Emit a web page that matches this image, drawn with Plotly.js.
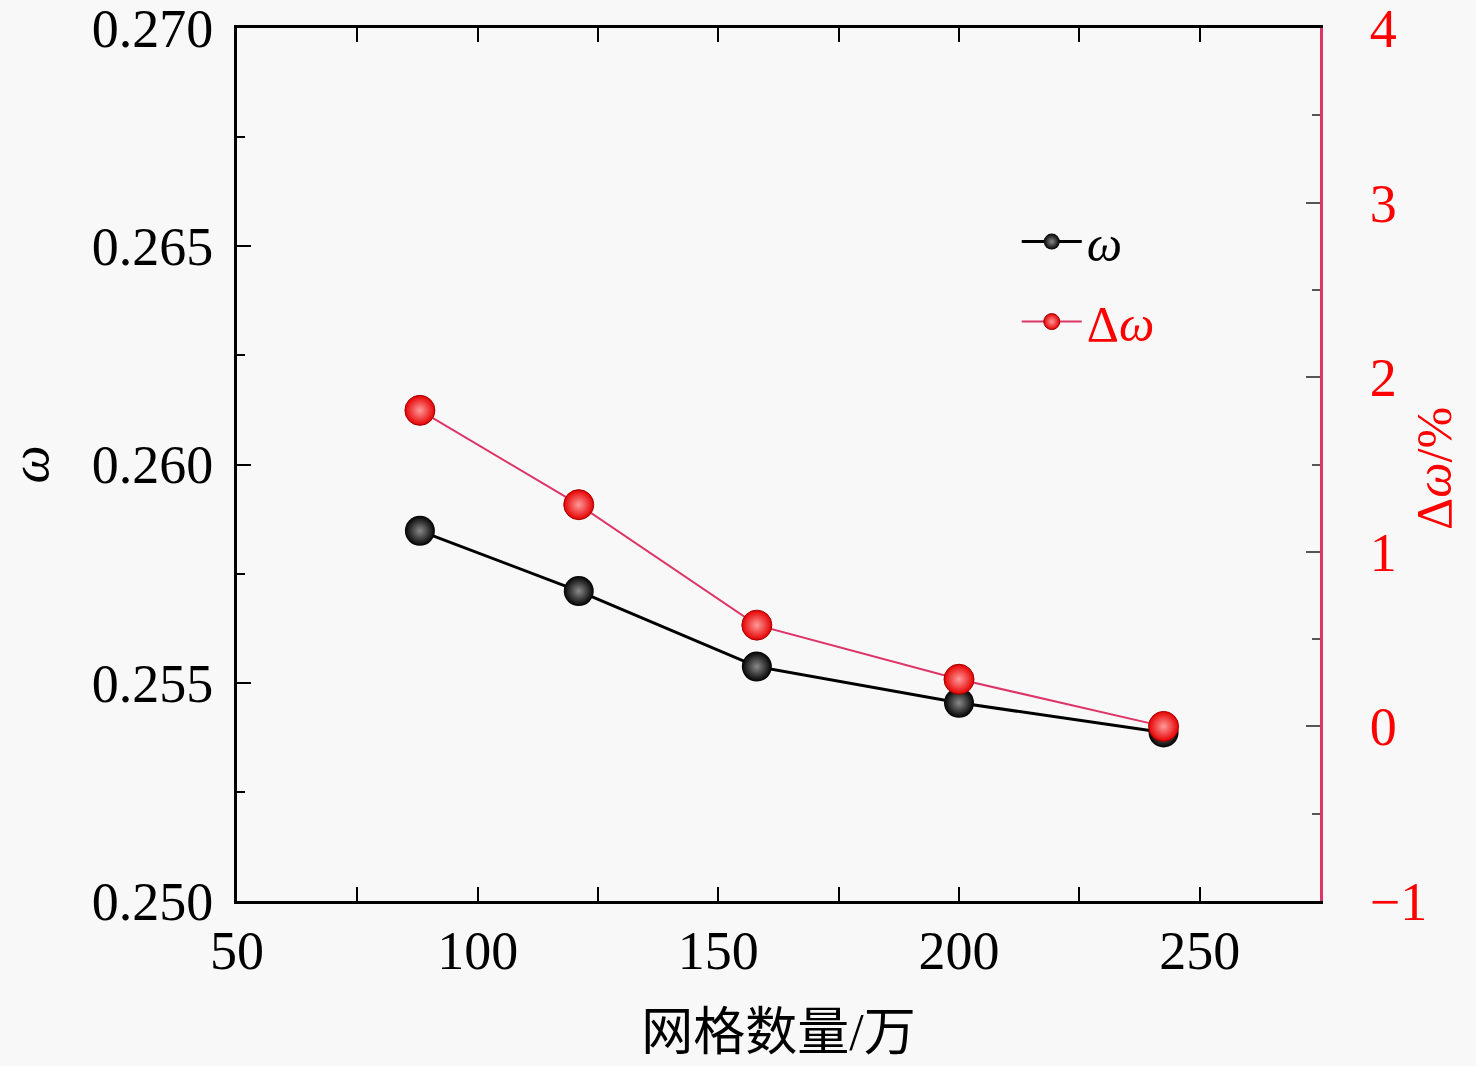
<!DOCTYPE html>
<html>
<head>
<meta charset="utf-8">
<script src="https://cdn.plot.ly/plotly-3.0.1.min.js"></script>
<style>
  body { margin: 0; background: #f8f8f8; }
  #chart { width: 1476px; height: 1066px; }
</style>
</head>
<body>
<div id="chart"></div>
<script>
// grid count (x10^4) and results
const meshCount = [88, 121, 158, 200, 242.5];
const omega = [0.25848, 0.25710, 0.25537, 0.25454, 0.25386];
const deltaOmega = [1.81, 1.27, 0.58, 0.27, 0.0];

const serif = '"Liberation Serif", "Times New Roman", "Noto Sans CJK SC", serif';
const crimson = '#dc3566';
const fs = 54;

let traceOmega = {
  name: '<i>ω</i>',
  x: meshCount,
  y: omega,
  yaxis: 'y',
  type: 'scatter',
  mode: 'lines+markers',
  legendgroup: 'a',
  line: { color: '#000', width: 3 },
  marker: {
    color: '#000', size: 30,
    gradient: { type: 'radial', color: '#8a8a8a' },
    line: { width: 0 },
  },
};
let traceDelta = {
  name: '<span style="color:#ff0000">Δ<i>ω</i></span>',
  x: meshCount,
  y: deltaOmega,
  yaxis: 'y2',
  type: 'scatter',
  mode: 'lines+markers',
  legendgroup: 'b',
  line: { color: crimson, width: 2 },
  marker: {
    color: '#e60000', size: 30,
    gradient: { type: 'radial', color: '#ff9a9a' },
    line: { width: 1, color: '#a00000' },
  },
};

let layout = {
  width: 1476,
  height: 1066,
  paper_bgcolor: '#f8f8f8',
  plot_bgcolor: '#f8f8f8',
  margin: { l: 237, r: 156, t: 28, b: 165 },
  font: { family: serif, size: fs, color: '#000' },
  showlegend: true,
  legend: {
    x: 0.72, y: 0.80, xanchor: 'left', yanchor: 'top',
    bgcolor: 'rgba(0,0,0,0)',
    font: { family: serif, size: 50 },
    traceorder: 'grouped',
    tracegroupgap: 12,
    itemwidth: 60,
  },
  xaxis: {
    range: [50, 275],
    tickvals: [50, 100, 150, 200, 250],
    ticks: 'inside', ticklen: 14, tickwidth: 2, tickcolor: '#000',
    minor: { tickvals: [75, 125, 175, 225, 275], ticks: 'inside', ticklen: 8, tickwidth: 2, tickcolor: '#000' },
    showline: true, linewidth: 3, linecolor: '#000', mirror: 'allticks',
    showgrid: false, zeroline: false,
    ticklabeloverflow: 'allow',
    tickfont: { family: serif, size: fs },
    title: { text: '网格数量/万', font: { family: serif, size: 52 }, standoff: 34 },
  },
  yaxis: {
    range: [0.250, 0.270],
    tickvals: [0.250, 0.255, 0.260, 0.265, 0.270],
    tickformat: '.3f',
    ticks: 'inside', ticklen: 14, tickwidth: 2, tickcolor: '#000',
    ticklabelstandoff: 10,
    ticklabeloverflow: 'allow',
    minor: { tickvals: [0.2525, 0.2575, 0.2625, 0.2675], ticks: 'inside', ticklen: 8, tickwidth: 2, tickcolor: '#000' },
    showline: true, linewidth: 3, linecolor: '#000',
    showgrid: false, zeroline: false,
    tickfont: { family: serif, size: fs },
    title: { text: '<i>ω</i>', font: { family: serif, size: fs }, standoff: 30 },
  },
  yaxis2: {
    overlaying: 'y',
    side: 'right',
    range: [-1, 4],
    tickvals: [-1, 0, 1, 2, 3, 4],
    ticks: 'inside', ticklen: 14, tickwidth: 2, tickcolor: '#555',
    ticklabelstandoff: 36,
    ticklabeloverflow: 'allow',
    minor: { tickvals: [-0.5, 0.5, 1.5, 2.5, 3.5], ticks: 'inside', ticklen: 8, tickwidth: 2, tickcolor: '#555' },
    showline: true, linewidth: 3, linecolor: crimson,
    showgrid: false, zeroline: false,
    tickfont: { family: serif, size: fs, color: '#ff0000' },
  },
  annotations: [{
    text: 'Δ<i>ω</i>/%',
    xref: 'paper', yref: 'paper', x: 1.133, y: 0.495,
    textangle: -90, showarrow: false,
    font: { family: serif, size: 50, color: '#ff0000' },
  }],
};

Plotly.newPlot('chart', [traceOmega, traceDelta], layout, { staticPlot: true });
</script>
</body>
</html>
